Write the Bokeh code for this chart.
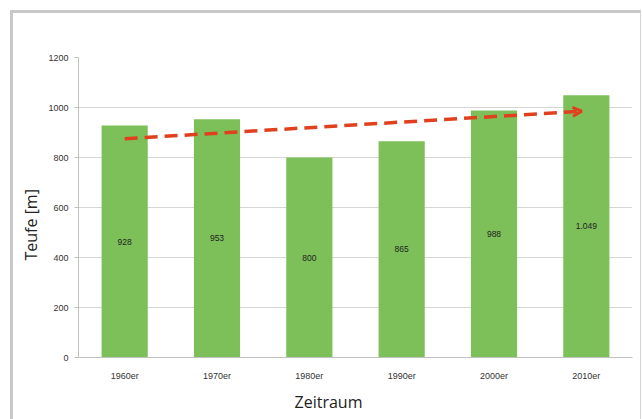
from bokeh.plotting import figure
from bokeh.models import ColumnDataSource, Arrow, OpenHead, Title, FixedTicker, Range1d
from bokeh.core.properties import value
from bokeh.embed import file_html
from bokeh.resources import INLINE

categories = ["1960er", "1970er", "1980er", "1990er", "2000er", "2010er"]
depths = [928, 953, 800, 865, 988, 1049]
depth_labels = ["928", "953", "800", "865", "988", "1.049"]
trend_cats = ["1960er", "2010er"]
trend_vals = [875, 985]
y_ticks = [0, 200, 400, 600, 800, 1000, 1200]

src = ColumnDataSource(dict(cat=categories, d=depths, mid=[v / 2 for v in depths], lab=depth_labels))

p = figure(x_range=categories, y_range=Range1d(0, 1200), width=631, height=409,
           output_backend="svg", toolbar_location=None,
           min_border_left=64, min_border_right=12, min_border_top=44, min_border_bottom=65)
p.styles = {"border-left": "3px solid #c8c8c8", "border-top": "3px solid #c8c8c8",
            "border-right": "1px solid #d4d4d4", "margin-left": "10px", "margin-top": "10px"}
p.outline_line_color = None
p.background_fill_color = "white"

p.vbar(x="cat", top="d", width=0.5, source=src, fill_color="#7dc05a", line_color=None)
p.text(x="cat", y="mid", text="lab", source=src, text_align="center", text_baseline="middle",
       text_font=value("Liberation Sans"), text_font_size="8.5px", text_color="#1e1e1e")

i0 = categories.index(trend_cats[0]) + 0.5
i1 = categories.index(trend_cats[1]) + 0.45
p.add_layout(Arrow(x_start=i0, y_start=trend_vals[0], x_end=i1, y_end=trend_vals[1],
                   line_color="#e0401e", line_width=3.5, line_dash="13 7",
                   end=OpenHead(size=9, line_color="#e0401e", line_width=3)))

p.yaxis.ticker = FixedTicker(ticks=y_ticks)
p.yaxis.axis_line_color = "#c0c0c0"
p.yaxis.major_tick_line_color = "#c0c0c0"
p.yaxis.major_tick_out = 4
p.yaxis.major_tick_in = 0
p.yaxis.minor_tick_line_color = None
p.yaxis.major_label_text_font = "Liberation Sans"
p.yaxis.major_label_text_font_size = "9px"
p.yaxis.major_label_text_color = "#333333"
p.yaxis.major_label_standoff = 6

p.xaxis.axis_line_color = "#c0c0c0"
p.xaxis.major_tick_line_color = None
p.xaxis.major_label_text_font = "Liberation Sans"
p.xaxis.major_label_text_font_size = "9px"
p.xaxis.major_label_text_color = "#333333"
p.xaxis.major_label_standoff = 7

p.xgrid.grid_line_color = None
p.ygrid.grid_line_color = "#d6d6d6"
p.ygrid.grid_line_width = 1

p.add_layout(Title(text="Zeitraum", align="left", offset=216, standoff=10,
                   text_font="Open Sans", text_font_size="16px", text_font_style="normal",
                   text_color="#222222"), "below")
p.add_layout(Title(text="Teufe [m]", align="left", offset=97, standoff=8,
                   text_font="Open Sans", text_font_size="16px", text_font_style="normal",
                   text_color="#222222"), "left")

open("out.html", "w").write(file_html(p, INLINE))
